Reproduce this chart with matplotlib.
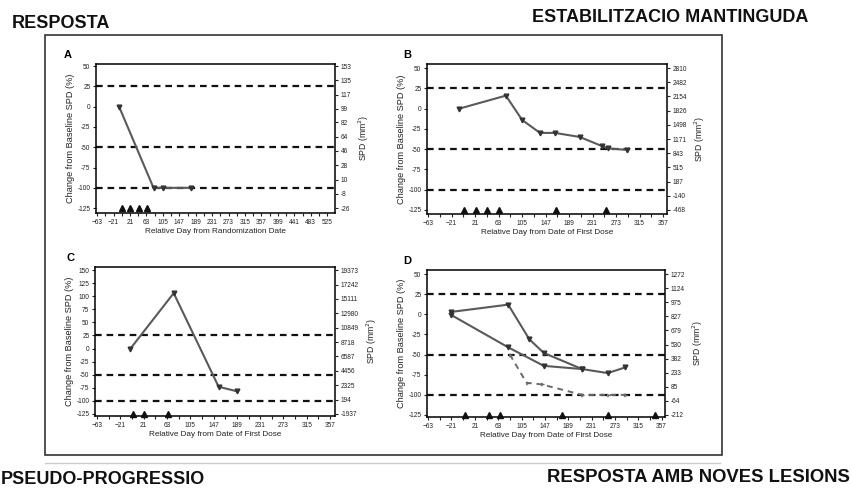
import numpy as np
import matplotlib
matplotlib.use('Agg')
import matplotlib.pyplot as plt
from matplotlib.patches import Rectangle
from matplotlib.lines import Line2D

matplotlib.rcParams['font.family'] = ['Liberation Sans', 'DejaVu Sans']

# ---- panel A: response ----
a_days = [-7, 81, 105, 178]
a_pct = [0, -100, -100, -100]
a_dose = [1, 22, 43, 64]
a_spd = [153, 135, 117, 99, 82, 64, 46, 28, 10, -8, -26]

# ---- panel B: stable disease ----
b_days = [-7, 76, 105, 137, 164, 208, 247, 258, 293]
b_pct = [0, 16, -14, -30, -30, -35, -46, -49, -51]
b_dose = [1, 22, 43, 64, 165, 255]
b_spd = [2810, 2482, 2154, 1826, 1498, 1171, 843, 515, 187, -140, -468]

# ---- panel C: pseudo-progression ----
c_days = [-3, 75, 156, 190]
c_pct = [0, 106, -73, -82]
c_dose = [1, 22, 64]
c_spd = [19373, 17242, 15111, 12980, 10849, 8718, 6587, 4456, 2325, 194, -1937]

# ---- panel D: response with new lesions ----
d_days_total = [-21, 81, 119, 145, 214, 260, 291]
d_pct_total = [3, 12, -31, -48, -68, -73, -66]
d_days_index = [-21, 81, 145, 214]
d_pct_index = [-1, -41, -64, -68]
d_days_new = [84, 114, 141, 214, 260, 291]
d_pct_new = [-50, -85, -87, -100, -100, -100]
d_dose = [3, 47, 66, 177, 260, 345]
d_spd = [1272, 1124, 975, 827, 679, 530, 382, 233, 85, -64, -212]

ref_levels = [25, -50, -100]
line_col = '#5a5a5a'

W, H = 851, 493
fig = plt.figure(figsize=(W / 100, H / 100), dpi=100)


def px_axes(x0, y0, x1, y1):
    return fig.add_axes([x0 / W, 1 - y1 / H, (x1 - x0) / W, (y1 - y0) / H])


def panel(ax, letter, letter_x, xlim, ylim, ytop, spd, xlabel):
    ax.set_xlim(*xlim)
    ax.set_ylim(*ylim)
    for s in ax.spines.values():
        s.set_linewidth(1.1)
    yt = np.arange(-125, ytop + 1, 25)
    ax.set_yticks(yt)
    ax.set_yticklabels([str(v) for v in yt])
    ax.set_xticks(np.arange(-63, xlim[1], 42))
    ax.set_xticks(np.arange(-42, xlim[1], 42), minor=True)
    ax.tick_params(which='both', direction='out', length=2.5, width=0.8,
                   labelsize=4.7, pad=1.5, colors='#222222')
    for lv in ref_levels:
        ax.axhline(lv, color='#111111', lw=1.6, ls=(0, (3, 2.2)), zorder=1)
    ax.set_ylabel('Change from Baseline SPD (%)', fontsize=6.6, labelpad=1.5,
                  color='#222222')
    ax.set_xlabel(xlabel, fontsize=5.9, labelpad=1.5, color='#222222')
    ax.text(letter_x, 1.03, letter, transform=ax.transAxes, fontsize=8,
            fontweight='bold', va='bottom', ha='left')
    # right axis: SPD scaled linearly onto the % axis
    tw = ax.twinx()
    lo, hi = spd[-1], spd[0]
    scale = (hi - lo) / (ytop + 125)
    tw.set_ylim(lo + (ylim[0] + 125) * scale, lo + (ylim[1] + 125) * scale)
    tw.set_yticks(spd)
    tw.set_yticklabels([str(v) for v in spd])
    tw.tick_params(direction='out', length=2.5, width=0.8, labelsize=4.7,
                   pad=1.5, colors='#222222')
    for s in tw.spines.values():
        s.set_visible(False)
    tw.set_ylabel('SPD (mm$^2$)', fontsize=6.2, labelpad=4, color='#222222')
    return tw


def series(ax, days, pct, ls='-'):
    ax.plot(days, pct, color=line_col, lw=1.5, ls=ls, marker='v', ms=3.4,
            mfc='#333333', mec='#333333', zorder=3)


def doses(ax, days):
    ax.plot(days, [-125] * len(days), ls='none', marker='^', ms=5,
            color='#111111', clip_on=False, zorder=4)


axA = px_axes(96, 64, 335, 213)
panel(axA, 'A', -0.135, (-66, 545), (-131, 52.5), 50, a_spd,
      'Relative Day from Randomization Date')
series(axA, a_days, a_pct)
doses(axA, a_dose)

axB = px_axes(427, 64, 667, 214)
panel(axB, 'B', -0.10, (-65, 364), (-130, 55), 50, b_spd,
      'Relative Day from Date of First Dose')
series(axB, b_days, b_pct)
doses(axB, b_dose)

axC = px_axes(95, 267, 335, 416)
panel(axC, 'C', -0.12, (-67, 366), (-129, 156), 150, c_spd,
      'Relative Day from Date of First Dose')
series(axC, c_days, c_pct)
doses(axC, c_dose)

axD = px_axes(427, 270, 665, 417)
panel(axD, 'D', -0.10, (-65, 363), (-127.5, 55), 50, d_spd,
      'Relative Day from Date of First Dose')
series(axD, d_days_total, d_pct_total)
series(axD, d_days_index, d_pct_index)
axD.plot(d_days_new, d_pct_new, color='#6a6a6a', lw=1.4, ls=(0, (3, 2.5)),
         marker='4', ms=3, zorder=3)
doses(axD, d_dose)

# frame around the four panels and the rule beneath it
fig.patches.append(Rectangle((45 / W, 1 - 455 / H), (722 - 45) / W, (455 - 35) / H,
                             transform=fig.transFigure, fill=False,
                             ec='#333333', lw=1.2))
fig.lines.append(Line2D([45 / W, 720 / W], [1 - 463 / H, 1 - 463 / H],
                        transform=fig.transFigure, color='#cccccc', lw=1))

title_font = ['Liberation Sans', 'DejaVu Sans']
fig.text(12 / W, 1 - 23 / H, 'RESPOSTA', family=title_font, fontsize=13,
         fontweight='bold', va='center', ha='left', color='#111111')
fig.text(808 / W, 1 - 18 / H, 'ESTABILITZACIO MANTINGUDA', family=title_font,
         fontsize=13, fontweight='bold', va='center', ha='right', color='#111111')
fig.text(1 / W, 1 - 480 / H, 'PSEUDO-PROGRESSIO', family=title_font,
         fontsize=13, fontweight='bold', va='center', ha='left', color='#111111')
fig.text(547 / W, 1 - 478 / H, 'RESPOSTA AMB NOVES LESIONS', family=title_font,
         fontsize=13.3, fontweight='bold', va='center', ha='left', color='#111111')

fig.savefig('out.png', dpi=100)
